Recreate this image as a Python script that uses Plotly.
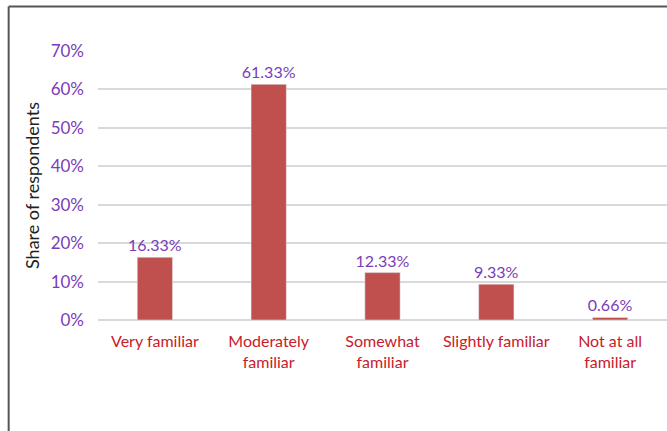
import plotly.graph_objects as go

categories = ["Very familiar", "Moderately<br>familiar", "Somewhat<br>familiar", "Slightly familiar", "Not at all<br>familiar"]
shares = [16.33, 61.33, 12.33, 9.33, 0.66]
labels = ["16.33%", "61.33%", "12.33%", "9.33%", "0.66%"]
tick_vals = [0, 10, 20, 30, 40, 50, 60, 70]
tick_text = ["0%", "10%", "20%", "30%", "40%", "50%", "60%", "70%"]

FONT = "Lato"

fig = go.Figure(go.Bar(
    x=categories,
    y=shares,
    text=labels,
    textposition="outside",
    constraintext="none",
    textfont=dict(family=FONT, size=16, color="#7A3DB8"),
    marker=dict(color="#C0504D"),
    cliponaxis=False,
    width=0.31,
))

fig.update_layout(
    width=667, height=431,
    margin=dict(l=98, r=0, t=51, b=111),
    paper_bgcolor="white",
    plot_bgcolor="white",
    showlegend=False,
    font=dict(family=FONT),
    xaxis=dict(
        tickfont=dict(family=FONT, size=16, color="#C8202A"),
        showgrid=False, showline=False, ticks="",
        ticklabelstandoff=10,
    ),
    yaxis=dict(
        range=[0, 70],
        tickvals=tick_vals,
        ticktext=tick_text,
        tickfont=dict(family=FONT, size=17, color="#7A3DB8"),
        showgrid=True, gridcolor="#D9D9D9", gridwidth=1.5,
        zeroline=True, zerolinecolor="#D9D9D9", zerolinewidth=1.5,
        ticklabelstandoff=13,
        title=dict(text="Share of respondents", font=dict(family=FONT, size=18, color="#222222"), standoff=6),
    ),
    shapes=[
        dict(type="line", xref="paper", yref="paper",
             x0=-0.157, x1=1.2, y0=1.165, y1=1.165,
             line=dict(color="#555555", width=2)),
        dict(type="line", xref="paper", yref="paper",
             x0=-0.157, x1=-0.157, y0=-0.6, y1=1.165,
             line=dict(color="#555555", width=2)),
    ],
)

fig.write_html("out.html", config={"displayModeBar": False},
               post_script="document.body.style.margin='0';")
